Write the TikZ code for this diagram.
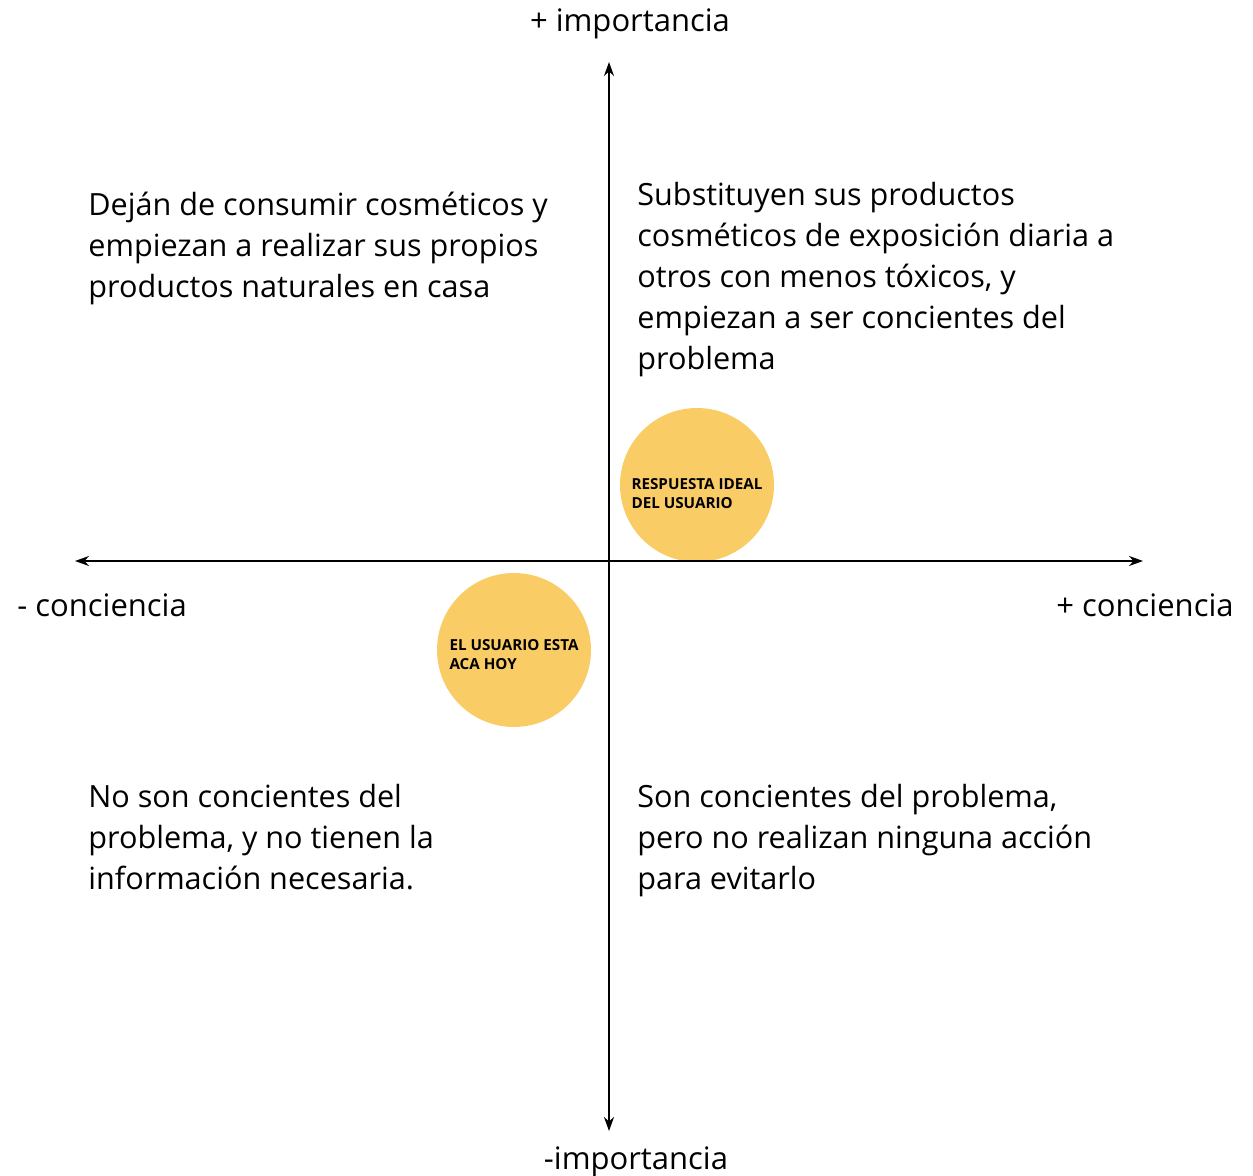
\documentclass[tikz,border=0pt]{standalone}
\usepackage{fontspec}
\setmainfont{Open Sans}
\usetikzlibrary{arrows.meta, positioning}
\definecolor{ideayellow}{RGB}{249,204,102}

\tikzset{
    eje/.style={{Stealth[length=7pt,width=5pt]}-{Stealth[length=7pt,width=5pt]}, line width=1pt},
    cuadrante/.style={anchor=north west, align=left, inner sep=0pt, font=\fontsize{15.3}{20.5}\selectfont},
    etiqueta/.style={inner sep=0pt, font=\fontsize{15.5}{17}\selectfont},
    burbuja/.style={circle, fill=ideayellow, minimum size=77pt, inner sep=0pt},
    burbujatexto/.style={align=left, inner sep=0pt, font=\fontsize{7.6}{9.5}\selectfont\bfseries}
}

\begin{document}
\begin{tikzpicture}[x=0.5pt, y=-0.5pt]
    \useasboundingbox (0,0) rectangle (1253,1176);

    % --- Burbujas ---
    \node[burbuja] (ideal) at (697,485) {};
    \node[burbujatexto] (idealtxt) at ([yshift=-4.5pt]ideal.center) {RESPUESTA IDEAL\\DEL USUARIO};
    \node[burbuja] (hoy) at (514,650) {};
    \node[burbujatexto] (hoytxt) at ([yshift=-2.5pt]hoy.center) {EL USUARIO ESTA\\ACA HOY};

    % --- Ejes ---
    \coordinate (izq) at (75,561);
    \coordinate (der) at (1143,561);
    \coordinate (arriba) at (609,62);
    \coordinate (abajo) at (609,1131);
    \draw[eje] (izq) -- (der);
    \draw[eje] (abajo) -- (arriba);

    % Etiquetas de los ejes
    \node[etiqueta] (impmas) at (630,24) {+ importancia};
    \node[etiqueta] (impmenos) at (636,1162) {-importancia};
    \node[etiqueta, anchor=west] (concmenos) at (17,605) {- conciencia};
    \node[etiqueta, anchor=east] (concmas) at (1234,605) {+ conciencia};

    % --- Cuadrantes ---
    \node[cuadrante] (q2) at (88,192) {Deján de consumir cosméticos y\\empiezan a realizar sus propios\\productos naturales en casa};
    \node[cuadrante] (q1) at (637,182) {Substituyen sus productos\\cosméticos de exposición diaria a\\otros con menos tóxicos, y\\empiezan a ser concientes del\\problema};
    \node[cuadrante] (q3) at (88,784) {No son concientes del\\problema, y no tienen la\\información necesaria.};
    \node[cuadrante] (q4) at (637,784) {Son concientes del problema,\\pero no realizan ninguna acción\\para evitarlo};
\end{tikzpicture}
\end{document}
